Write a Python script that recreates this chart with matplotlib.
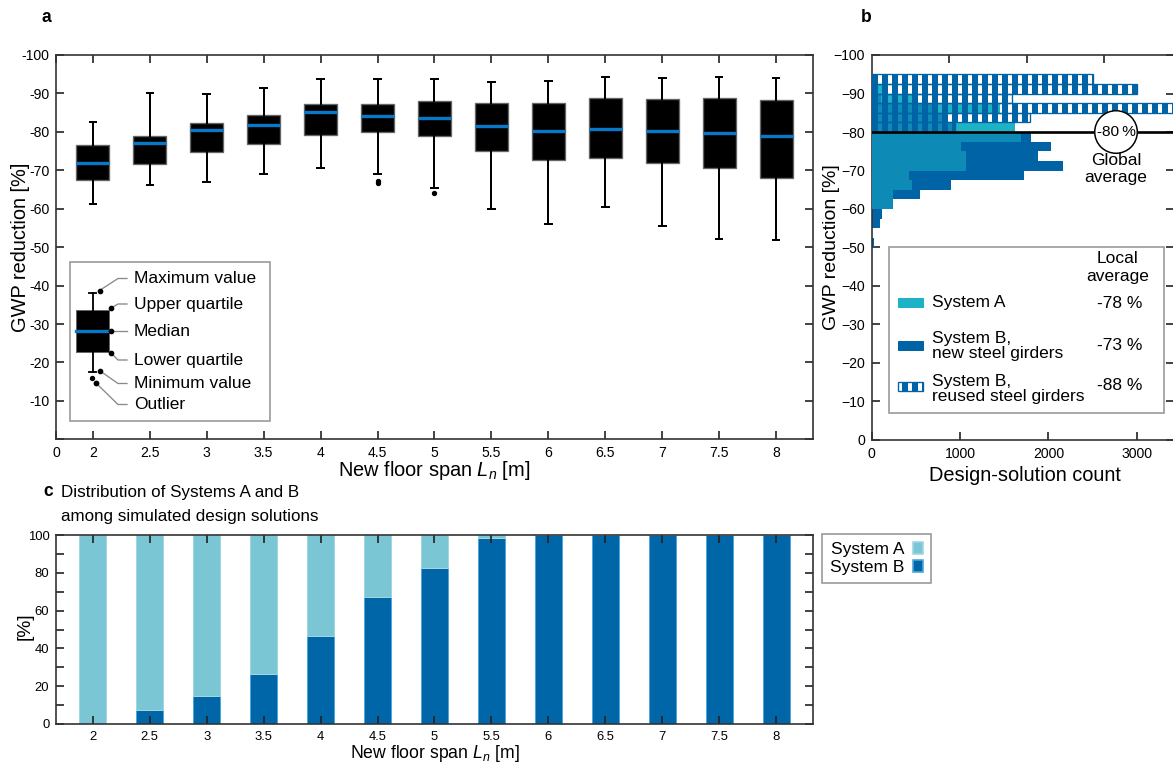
import numpy as np
import matplotlib
matplotlib.use("Agg")
import matplotlib.pyplot as plt
from matplotlib.patches import Rectangle, Patch

plt.rcParams['font.family'] = ['Liberation Sans', 'DejaVu Sans']
plt.rcParams['mathtext.fontset'] = 'custom'
plt.rcParams['mathtext.rm'] = 'Liberation Sans'
plt.rcParams['mathtext.it'] = 'Liberation Sans:italic'
plt.rcParams['hatch.linewidth'] = 3.6

W, H, DPI = 1173, 763, 120

# ---------------- data ----------------
span_labels = ["2", "2.5", "3", "3.5", "4", "4.5", "5", "5.5", "6", "6.5", "7", "7.5", "8"]
gwp_max = [-82.5, -90.0, -89.9, -91.3, -93.7, -93.8, -93.7, -92.9, -93.3, -94.4, -94.1, -94.4, -94.1]
gwp_q3 = [-76.6, -79.0, -82.3, -84.4, -87.3, -87.3, -88.1, -87.6, -87.4, -88.9, -88.6, -88.8, -88.3]
gwp_med = [-72.0, -77.2, -80.6, -81.9, -85.2, -84.0, -83.7, -81.4, -80.2, -80.7, -80.2, -79.8, -78.8]
gwp_q1 = [-67.4, -71.7, -74.7, -76.9, -79.3, -79.9, -79.0, -75.0, -72.6, -73.1, -71.9, -70.5, -67.9]
gwp_min = [-61.1, -66.2, -66.9, -69.0, -70.6, -69.0, -65.3, -59.8, -55.9, -60.5, -55.4, -52.2, -51.8]
gwp_outliers = [[], [], [], [], [], [-67.3, -66.8], [-64.0], [], [], [], [], [], []]

# histogram bins: each bin spans [edge, edge + 2.5] in GWP reduction [%]
hist_bin_edge = [-95.0, -92.5, -90.0, -87.5, -85.0, -82.5, -80.0, -77.5, -75.0,
                 -72.5, -70.0, -67.5, -65.0, -62.5, -60.0, -57.5, -55.0, -52.5]
count_sys_a = [0, 150, 485, 1450, 850, 1617, 1689, 1010, 1063,
               1063, 422, 460, 241, 238, 0, 0, 0, 0]
count_sys_b_new = [50, 50, 100, 700, 850, 940, 1802, 2025, 1881,
                   2164, 1723, 893, 543, 238, 113, 94, 0, 30]
count_sys_b_reused = [2507, 3000, 1584, 3600, 1791, 940, 0, 0, 0,
                      0, 0, 0, 0, 0, 0, 0, 0, 0]
global_avg = -80
legend_b_labels = ["System A", "System B,\nnew steel girders", "System B,\nreused steel girders"]
local_avg_labels = ["-78 %", "-73 %", "-88 %"]

share_sys_b = [0, 7.5, 14.7, 26.5, 46.3, 67.1, 82.7, 98.3, 100, 100, 100, 100, 100]
share_sys_a = [100, 92.5, 85.3, 73.5, 53.7, 32.9, 17.3, 1.7, 0, 0, 0, 0, 0]

legend_a_labels = ["Maximum value", "Upper quartile", "Median",
                   "Lower quartile", "Minimum value", "Outlier"]

# ---------------- style ----------------
COL_A = '#1db3c7'
COL_B = '#0063a6'
COL_AB = '#0e8ab6'
COL_MED = '#0a78c8'
COL_CA = '#7bc6d5'
COL_CB = '#0066a7'
SPINE = '#333333'
TICK_FS = 8.4
LAB_FS = 12
LEG_FS = 10.4


def fbox(l, t, r, b):
    return [l / W, 1 - b / H, (r - l) / W, (b - t) / H]


def style_axes(ax):
    for s in ax.spines.values():
        s.set_color(SPINE)
        s.set_linewidth(1.0)
    ax.tick_params(direction='in', top=True, right=True, length=5, width=1.0,
                   color='#222222', labelsize=TICK_FS, pad=4)


fig = plt.figure(figsize=(W / DPI, H / DPI), dpi=DPI)

pos = np.arange(1, len(span_labels) + 1)
xlo, xhi = 0.356, len(span_labels) + 0.644

# ---------------- panel a ----------------
axa = fig.add_axes(fbox(56, 55, 813, 439.3))
stats = [dict(med=m, q1=a, q3=b, whislo=lo, whishi=hi, fliers=f)
         for m, a, b, lo, hi, f in zip(gwp_med, gwp_q1, gwp_q3, gwp_min, gwp_max, gwp_outliers)]
axa.bxp(stats, positions=pos, widths=0.585, patch_artist=True, manage_ticks=False,
        boxprops=dict(facecolor='black', edgecolor='#666666', linewidth=0.8),
        medianprops=dict(color=COL_MED, linewidth=2.0),
        whiskerprops=dict(color='black', linewidth=1.2),
        capprops=dict(color='black', linewidth=1.2), capwidths=0.11,
        flierprops=dict(marker='o', markersize=2.2, markerfacecolor='black',
                        markeredgecolor='black'))
axa.set_xlim(xlo, xhi)
axa.set_ylim(0, -100)
axa.set_xticks([xlo] + list(pos))
axa.set_xticklabels(["0"] + span_labels)
yt = np.arange(-100, 1, 10)
axa.set_yticks(yt)
axa.set_yticklabels([str(v) if v != 0 else "" for v in yt])
style_axes(axa)
axa.set_ylabel("GWP reduction [%]", fontsize=LAB_FS, ha='center', va='center')
axa.yaxis.set_label_coords((20 - 56) / 757, 0.5)
axa.set_xlabel(r"New floor span $L_n$ [m]", fontsize=LAB_FS, va='center')
axa.xaxis.set_label_coords(0.5, (439.3 - 470) / 384.3)

# ---------------- panel b ----------------
axb = fig.add_axes(fbox(871.7, 55, 1174, 440))
yc = np.array(hist_bin_edge) + 1.25
ca = np.array(count_sys_a, float)
cb = np.array(count_sys_b_new, float)
cr = np.array(count_sys_b_reused, float)
axb.barh(yc, cb, height=2.5, color=COL_B, linewidth=0, zorder=2)
axb.barh(yc, ca, height=2.5, color=COL_A, linewidth=0, zorder=3)
axb.barh(yc, np.minimum(ca, cb), height=2.5, color=COL_AB, linewidth=0, zorder=4)
m = cr > 0
axb.barh(yc[m], cr[m], height=2.5, facecolor='none', edgecolor=COL_B,
         hatch='||', linewidth=0.8, zorder=5)
axb.axhline(global_avg, color='black', linewidth=1.6, zorder=6)
axb.text(2764, global_avg, "-80\u2009%", ha='center', va='center', fontsize=9.2, zorder=8,
         bbox=dict(boxstyle='circle,pad=0.12', facecolor='white', edgecolor='black', linewidth=0.9))
axb.text(2764, -74.5, "Global\naverage", ha='center', va='top', fontsize=LEG_FS,
         linespacing=1.15, zorder=8)
axb.set_xlim(0, 3420)
axb.set_ylim(0, -100)
axb.set_yticks(yt)
axb.set_xticks([0, 1000, 2000, 3000])
style_axes(axb)
axb.tick_params(top=False)
sec = axb.secondary_xaxis('top', functions=(lambda x: x * 1.14, lambda x: x / 1.14))
sec.set_xticks([1000, 2000, 3000])
sec.tick_params(direction='in', length=5, width=1.0, color='#222222', labeltop=False)
sec.spines['top'].set_visible(False)
axb.set_ylabel("GWP reduction [%]", fontsize=LAB_FS - 0.3, ha='center', va='center')
axb.yaxis.set_label_coords((832 - 871.7) / 302.3, 0.5)
axb.set_xlabel("Design-solution count", fontsize=LAB_FS, va='center')
axb.xaxis.set_label_coords((1025 - 871.7) / 302.3, (440 - 476) / 385)

# ---------------- panel c ----------------
axc = fig.add_axes(fbox(56, 535, 813, 724))
axc.bar(pos, share_sys_b, width=0.47, color=COL_CB, edgecolor='#4ea6dc', linewidth=0.6)
axc.bar(pos, share_sys_a, bottom=share_sys_b, width=0.47, color=COL_CA,
        edgecolor='#9fd6e2', linewidth=0.6)
axc.set_xlim(xlo, xhi)
axc.set_ylim(0, 100)
axc.set_xticks(pos)
axc.set_xticklabels(span_labels)
axc.set_yticks(np.arange(0, 101, 20))
axc.set_yticks(np.arange(10, 100, 20), minor=True)
style_axes(axc)
axc.tick_params(which='minor', direction='in', right=True, left=True, length=5, width=1.0,
                color='#222222')
axc.tick_params(labelsize=7.8)
axc.tick_params(axis='x', pad=4)
axc.set_ylabel("[%]", fontsize=LAB_FS - 0.5, ha='center', va='center')
axc.yaxis.set_label_coords((25 - 56) / 757, (724 - 626) / 189)
axc.set_xlabel(r"New floor span $L_n$ [m]", fontsize=10.6, va='center')
axc.xaxis.set_label_coords(0.5, (724 - 754) / 189)
fig.legend([Patch(facecolor=COL_CA, edgecolor='#9fd6e2'), Patch(facecolor=COL_CB, edgecolor='#4ea6dc')],
           ["System A", "System B"], loc='upper left',
           bbox_to_anchor=(822 / W, 1 - 534 / H), markerfirst=False,
           handlelength=0.6, handleheight=0.75, handletextpad=0.5, labelspacing=0.15,
           fontsize=LEG_FS, frameon=True, fancybox=False, framealpha=1,
           edgecolor='#999999', borderpad=0.45, borderaxespad=0)

# ---------------- titles ----------------
fig.text(46 / W, 1 - 18 / H, "a", fontsize=10.5, fontweight='bold', ha='center', va='center')
fig.text(866 / W, 1 - 18 / H, "b", fontsize=10.5, fontweight='bold', ha='center', va='center')
fig.text(48 / W, 1 - 492 / H, "c", fontsize=10.5, fontweight='bold', ha='center', va='center')
fig.text(61 / W, 1 - 492 / H, "Distribution of Systems A and B", fontsize=10.2, ha='left', va='center')
fig.text(61 / W, 1 - 516 / H, "among simulated design solutions", fontsize=10.2, ha='left', va='center')

# ---------------- legend keys (schematic) in pixel overlay ----------------
ov = fig.add_axes([0, 0, 1, 1], zorder=10)
ov.set_xlim(0, W)
ov.set_ylim(H, 0)
ov.axis('off')
ov.patch.set_alpha(0)

# panel a key
ov.add_patch(Rectangle((70, 262), 200, 159, facecolor='white', edgecolor='#9a9a9a', linewidth=1.0))
ov.add_patch(Rectangle((76, 310), 33, 42, facecolor='black', edgecolor='#666666', linewidth=0.6))
ov.plot([76, 109], [331, 331], color=COL_MED, lw=2.0)
ov.plot([92.5, 92.5], [293, 310], color='black', lw=1.1)
ov.plot([92.5, 92.5], [352, 372], color='black', lw=1.1)
ov.plot([89, 96], [293, 293], color='black', lw=1.1)
ov.plot([89, 96], [372, 372], color='black', lw=1.1)
ov.plot([92, 95.5], [378, 382.5], 'o', color='black', ms=2.2)
dots = [(99.5, 290.5), (111, 308), (111, 331), (111, 353), (99.5, 370.5), (95.5, 382.5)]
bends = [(118, 278.5), (118, 304), (118, 331), (118, 360), (118, 383.5), (118, 404.5)]
lab_y = [278.5, 304, 331, 360, 383.5, 404.5]
for (dx, dy), (bx, by), ly, txt in zip(dots, bends, lab_y, legend_a_labels):
    ov.plot([dx, bx, 127], [dy, by, by], color='#8a8a8a', lw=0.8)
    ov.plot([dx], [dy], 'o', color='black', ms=2.4)
    ov.text(134, ly, txt, fontsize=LEG_FS, ha='left', va='center')

# panel b key
ov.add_patch(Rectangle((889, 247), 275, 166, facecolor='white', edgecolor='#9a9a9a', linewidth=1.0))
ov.add_patch(Rectangle((898, 298), 25, 9, facecolor=COL_A, edgecolor=COL_A, linewidth=0.6))
ov.add_patch(Rectangle((898, 341), 25, 9, facecolor=COL_B, edgecolor=COL_B, linewidth=0.6))
ov.add_patch(Rectangle((898, 382), 25, 9, facecolor='white', edgecolor=COL_B, hatch='||', linewidth=0.8))
for ty, vy, t, v in zip([303, 346, 389], [303, 346, 386], legend_b_labels, local_avg_labels):
    ov.text(932, ty, t, fontsize=LEG_FS, ha='left', va='center', linespacing=1.05)
    ov.text(1120, vy, v, fontsize=LEG_FS, ha='center', va='center')
ov.text(1118, 267.5, "Local\naverage", fontsize=LEG_FS, ha='center', va='center', linespacing=1.25)

fig.savefig("out.png", dpi=DPI)
